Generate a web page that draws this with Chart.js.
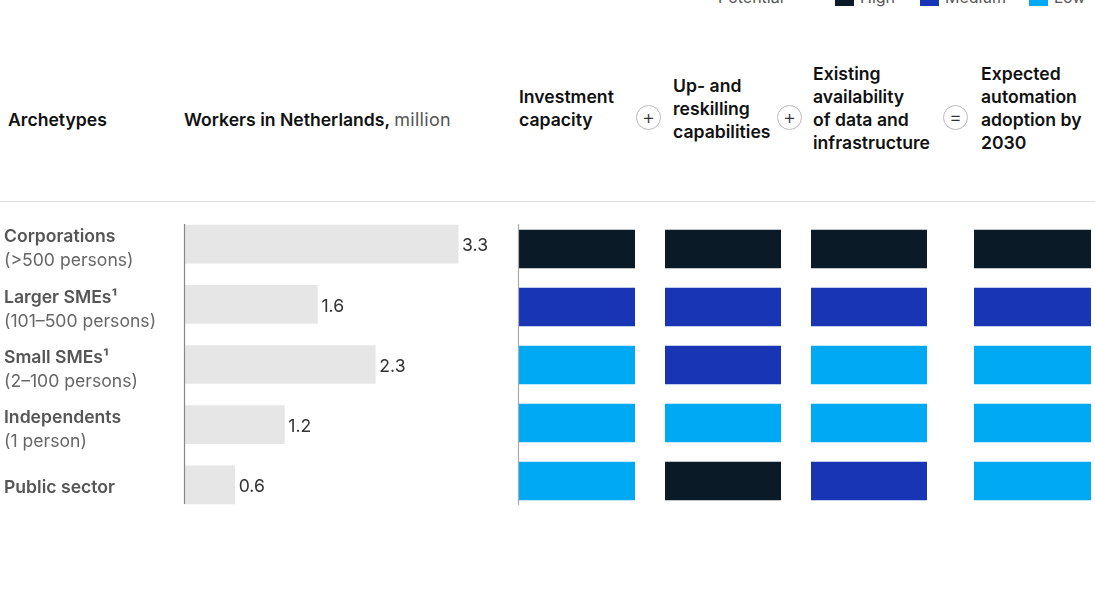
<!DOCTYPE html>
<html>
<head>
<meta charset="utf-8">
<script src="https://cdn.jsdelivr.net/npm/chart.js@4.4.1/dist/chart.umd.min.js"></script>
<style>
  html, body { margin: 0; padding: 0; background: #fff; }
  body { width: 1095px; height: 600px; position: relative; overflow: hidden; font-family: Inter, "Noto Sans", sans-serif; }
  .abs { position: absolute; }
  .hdr { font-size: 17.6px; font-weight: 600; color: #111; line-height: 23px; }
  .hdr .light { font-weight: 400; color: #555; font-size: 18px; letter-spacing: 0.3px; }
  .op { width: 23px; height: 23px; border: 1px solid #bbb; border-radius: 50%; color: #333;
        font-size: 20px; line-height: 22px; text-align: center; font-weight: 300; }
  .rule { left: 0; top: 201px; width: 1095px; height: 1px; background: #ddd; }
  .legend { top: -13px; font-size: 16px; color: #555; }
  .legend span.sw { display: inline-block; width: 19px; height: 14px; vertical-align: middle; margin-right: 6px; }
  canvas { position: absolute; }
</style>
</head>
<body>

<div class="abs legend" style="left:718px;">Potential</div>
<div class="abs legend" style="left:835px;"><span class="sw" style="background:#0b1a27"></span>High</div>
<div class="abs legend" style="left:920px;"><span class="sw" style="background:#1735b5"></span>Medium</div>
<div class="abs legend" style="left:1029px;"><span class="sw" style="background:#00a9f4"></span>Low</div>

<div class="abs hdr" style="left:8px; top:108px;">Archetypes</div>
<div class="abs hdr" style="left:184px; top:108px;">Workers in Netherlands, <span class="light">million</span></div>
<div class="abs hdr" style="left:519px; top:85px;">Investment<br>capacity</div>
<div class="abs op" style="left:636px; top:105px;">+</div>
<div class="abs hdr" style="left:673px; top:74px;">Up- and<br>reskilling<br>capabilities</div>
<div class="abs op" style="left:777px; top:105px;">+</div>
<div class="abs hdr" style="left:813px; top:62px;">Existing<br>availability<br>of data and<br>infrastructure</div>
<div class="abs op" style="left:943px; top:105px;">=</div>
<div class="abs hdr" style="left:981px; top:62px;">Expected<br>automation<br>adoption by<br>2030</div>

<div class="abs rule"></div>

<canvas id="workers" width="520" height="330" style="left:0; top:200px; width:520px; height:330px;"></canvas>
<canvas id="col0" width="125" height="330" style="left:510px; top:200px; width:125px; height:330px;"></canvas>
<canvas id="col1" width="116" height="330" style="left:665px; top:200px; width:116px; height:330px;"></canvas>
<canvas id="col2" width="116" height="330" style="left:811px; top:200px; width:116px; height:330px;"></canvas>
<canvas id="col3" width="117" height="330" style="left:974px; top:200px; width:117px; height:330px;"></canvas>

<script>
// archetypes (rows)
var archetypes = ['Corporations', 'Larger SMEs\u00b9', 'Small SMEs\u00b9', 'Independents', 'Public sector'];
var archetypeNotes = ['(>500 persons)', '(101\u2013500 persons)', '(2\u2013100 persons)', '(1 person)', ''];

// workers in Netherlands, million
var workers = [3.3, 1.6, 2.3, 1.2, 0.6];

// potential per driver: High / Medium / Low
var investment = ['High', 'Medium', 'Low', 'Low', 'Low'];
var reskilling = ['High', 'Medium', 'Medium', 'Low', 'High'];
var dataInfra  = ['High', 'Medium', 'Low', 'Low', 'Medium'];
var adoption   = ['High', 'Medium', 'Low', 'Low', 'Low'];

var levelColors = { High: '#0b1a27', Medium: '#1735b5', Low: '#00a9f4' };

Chart.defaults.font.family = 'Inter, "Noto Sans", sans-serif';
Chart.defaults.animation = false;

// vertical axis line from first bar top to last bar bottom
var axisLine = {
    id: 'axisLine',
    afterDatasetsDraw: function (chart, args, opts) {
        if (!opts || !opts.x) return;
        var bars = chart.getDatasetMeta(0).data;
        var first = bars[0], last = bars[bars.length - 1];
        var ctx = chart.ctx;
        ctx.save();
        ctx.strokeStyle = opts.color || '#888';
        ctx.lineWidth = 1.2;
        ctx.beginPath();
        ctx.moveTo(opts.x(chart), first.y - first.height / 2 - opts.extraTop);
        ctx.lineTo(opts.x(chart), last.y + last.height / 2 + opts.extraBottom);
        ctx.stroke();
        ctx.restore();
    }
};

// archetype names on the left and value labels at bar ends
var rowLabels = {
    id: 'rowLabels',
    afterDatasetsDraw: function (chart) {
        var ctx = chart.ctx;
        var yScale = chart.scales.y;
        var bars = chart.getDatasetMeta(0).data;
        ctx.save();
        ctx.textBaseline = 'middle';
        archetypes.forEach(function (name, i) {
            var y = yScale.getPixelForValue(i);
            var note = archetypeNotes[i];
            ctx.textAlign = 'left';
            ctx.font = '600 17.6px Inter, "Noto Sans", sans-serif';
            ctx.fillStyle = '#555';
            ctx.fillText(name, 4, note ? y - 7 : y + 3);
            if (note) {
                ctx.font = '400 17.6px Inter, "Noto Sans", sans-serif';
                ctx.fillStyle = '#666';
                ctx.fillText(note, 4, y + 17);
            }
            ctx.font = '400 17.6px Inter, "Noto Sans", sans-serif';
            ctx.fillStyle = '#333';
            ctx.fillText(workers[i].toFixed(1), bars[i].x + 4, y + 2);
        });
        ctx.restore();
    }
};

new Chart(document.getElementById('workers'), {
    type: 'bar',
    data: {
        labels: archetypes,
        datasets: [{
            data: workers,
            backgroundColor: '#e6e6e6',
            barThickness: 38
        }]
    },
    options: {
        indexAxis: 'y',
        responsive: false,
        devicePixelRatio: 1,
        layout: { padding: { left: 185, right: 4, top: 14, bottom: 15 } },
        plugins: {
            legend: { display: false },
            tooltip: { enabled: false },
            axisLine: { x: function (c) { return c.chartArea.left - 0.5; }, extraTop: 1, extraBottom: 0 }
        },
        scales: {
            x: { min: 0, max: 4, display: false },
            y: { display: false }
        }
    },
    plugins: [axisLine, rowLabels]
});

function heatColumn(id, levels, padLeft, withAxis) {
    new Chart(document.getElementById(id), {
        type: 'bar',
        data: {
            labels: archetypes,
            datasets: [{
                // every cell fills its column; the level is shown by colour
                data: levels.map(function () { return 1; }),
                backgroundColor: levels.map(function (l) { return levelColors[l]; }),
                barThickness: 38
            }]
        },
        options: {
            indexAxis: 'y',
            responsive: false,
            devicePixelRatio: 1,
            layout: { padding: { left: padLeft, right: 0, top: 20, bottom: 20 } },
            plugins: {
                legend: { display: false },
                tooltip: { enabled: false },
                axisLine: withAxis ? { x: function (c) { return c.chartArea.left - 0.5; }, color: '#aaa', extraTop: 6, extraBottom: 5 } : {}
            },
            scales: {
                x: { min: 0, max: 1, display: false },
                y: { display: false }
            }
        },
        plugins: withAxis ? [axisLine] : []
    });
}

heatColumn('col0', investment, 9, true);
heatColumn('col1', reskilling, 0, false);
heatColumn('col2', dataInfra, 0, false);
heatColumn('col3', adoption, 0, false);
</script>
</body>
</html>
